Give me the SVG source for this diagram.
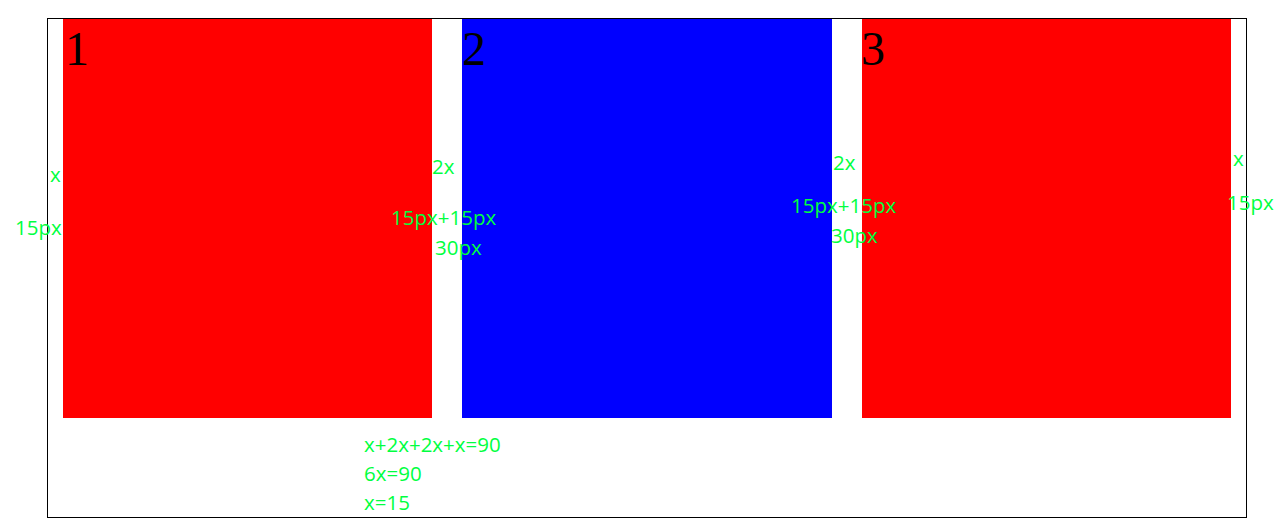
<svg xmlns="http://www.w3.org/2000/svg" width="1283" height="519" viewBox="0 0 1283 519">
<style>
.g{fill:#00ff40;font-family:"Open Sans","Liberation Sans",sans-serif;font-size:20.5px}
.n{fill:#000;font-family:"Liberation Serif",serif;font-size:48px}
</style>
<rect x="0" y="0" width="1283" height="519" fill="#fff"/>
<rect x="47.5" y="18.5" width="1199" height="499" fill="none" stroke="#000" stroke-width="1"/>
<g id="box1"><rect x="63" y="19" width="369" height="399" fill="#f00"/><text class="n" x="65" y="65">1</text></g>
<g id="box2"><rect x="462" y="19" width="370" height="399" fill="#00f"/><text class="n" x="462" y="65">2</text></g>
<g id="box3"><rect x="862" y="19" width="369" height="399" fill="#f00"/><text class="n" x="861" y="65">3</text></g>
<g id="labels">
<text class="g" x="50" y="182">x</text>
<text class="g" x="15" y="235">15px</text>
<text class="g" x="432" y="174">2x</text>
<text class="g" x="391" y="225">15px+15px</text>
<text class="g" x="435" y="255">30px</text>
<text class="g" x="833" y="170">2x</text>
<text class="g" x="791" y="213">15px+15px</text>
<text class="g" x="831" y="243">30px</text>
<text class="g" x="1233" y="166">x</text>
<text class="g" x="1227" y="210">15px</text>
<text class="g" x="364" y="452">x+2x+2x+x=90</text>
<text class="g" x="364" y="481">6x=90</text>
<text class="g" x="364" y="510">x=15</text>
</g>
</svg>
